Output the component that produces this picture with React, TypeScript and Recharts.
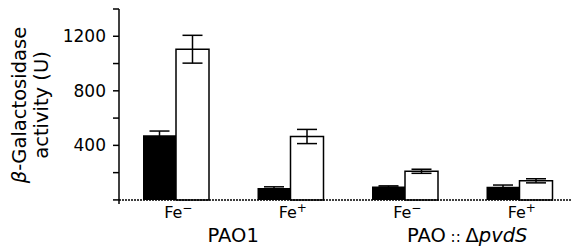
import { BarChart, Bar, XAxis, YAxis, ErrorBar, ReferenceLine } from "recharts";

const strains = ["PAO1", "PAO1", "PAO::ΔpvdS", "PAO::ΔpvdS"];
const iron = ["−", "+", "−", "+"];
const blackValues = [475, 88, 98, 97];
const blackErr = [30, 8, 5, 12];
const whiteValues = [1105, 465, 210, 140];
const whiteErr = [102, 52, 15, 15];
const yTicks = [0, 200, 400, 600, 800, 1000, 1200, 1400];
const yLabels = [400, 800, 1200];

const data = strains.map((s, i) => ({
  name: s + " Fe" + iron[i],
  black: blackValues[i],
  blackErr: blackErr[i],
  white: whiteValues[i],
  whiteErr: whiteErr[i],
}));

const FONT = "DejaVu Sans";

function IronTick(props: any) {
  const { x, y, payload } = props;
  const i = payload.index;
  return (
    <g>
      <text x={x + 2} y={y + 14} textAnchor="middle" fontFamily={FONT} fontSize={16} fill="#000">
        Fe
        <tspan dy={-6} fontSize={12}>{iron[i]}</tspan>
      </text>
      {i === 0 && (
        <text x={x + 57} y={y + 38} textAnchor="middle" fontFamily={FONT} fontSize={19.5} fill="#000">
          PAO1
        </text>
      )}
      {i === 2 && (
        <text x={x + 62} y={y + 38} textAnchor="middle" fontFamily={FONT} fontSize={19.5} fill="#000">
          PAO<tspan fontSize={15}> :: </tspan>Δ<tspan fontStyle="italic">pvdS</tspan>
        </text>
      )}
    </g>
  );
}

function ValueTick(props: any) {
  const { x, y, payload } = props;
  if (!yLabels.includes(payload.value)) return null;
  return (
    <text x={x} y={y + 6} textAnchor="end" fontFamily={FONT} fontSize={17} fill="#000">
      {payload.value}
    </text>
  );
}

function YLabel() {
  return (
    <g>
      <text x={0} y={0} transform="translate(26,105) rotate(-90)" textAnchor="middle" fontFamily={FONT} fontSize={19.5} fill="#000">
        <tspan fontStyle="italic">β</tspan>-Galactosidase
      </text>
      <text x={0} y={0} transform="translate(48,105) rotate(-90)" textAnchor="middle" fontFamily={FONT} fontSize={19.5} fill="#000">
        activity (U)
      </text>
    </g>
  );
}

export default function App() {
  return (
    <div style={{ position: "absolute", left: 0, top: 0, width: 572, height: 249, overflow: "hidden", background: "#fff" }}>
      <BarChart
        width={577}
        height={249}
        data={data}
        margin={{ top: 9, right: 0, bottom: 0, left: 0 }}
        barGap={0}
        barSize={33}
      >
        <XAxis
          dataKey="name"
          axisLine={false}
          tickLine={false}
          tickSize={0}
          tickMargin={0}
          height={45}
          interval={0}
          tick={<IronTick />}
        />
        <YAxis
          width={119}
          domain={[-30, 1400]}
          ticks={yTicks}
          interval={0}
          tickSize={6}
          tickMargin={7}
          stroke="#000"
          strokeWidth={1.5}
          tick={<ValueTick />}
          label={{ content: () => <YLabel /> }}
        />
        <ReferenceLine y={0} stroke="#000" strokeWidth={1.5} strokeDasharray="2 1" />
        <Bar dataKey="black" fill="#000" isAnimationActive={false}>
          <ErrorBar dataKey="blackErr" width={10} stroke="#000" strokeWidth={1.5} />
        </Bar>
        <Bar dataKey="white" fill="#fff" stroke="#000" strokeWidth={1.5} isAnimationActive={false}>
          <ErrorBar dataKey="whiteErr" width={10} stroke="#000" strokeWidth={1.5} />
        </Bar>
      </BarChart>
    </div>
  );
}
